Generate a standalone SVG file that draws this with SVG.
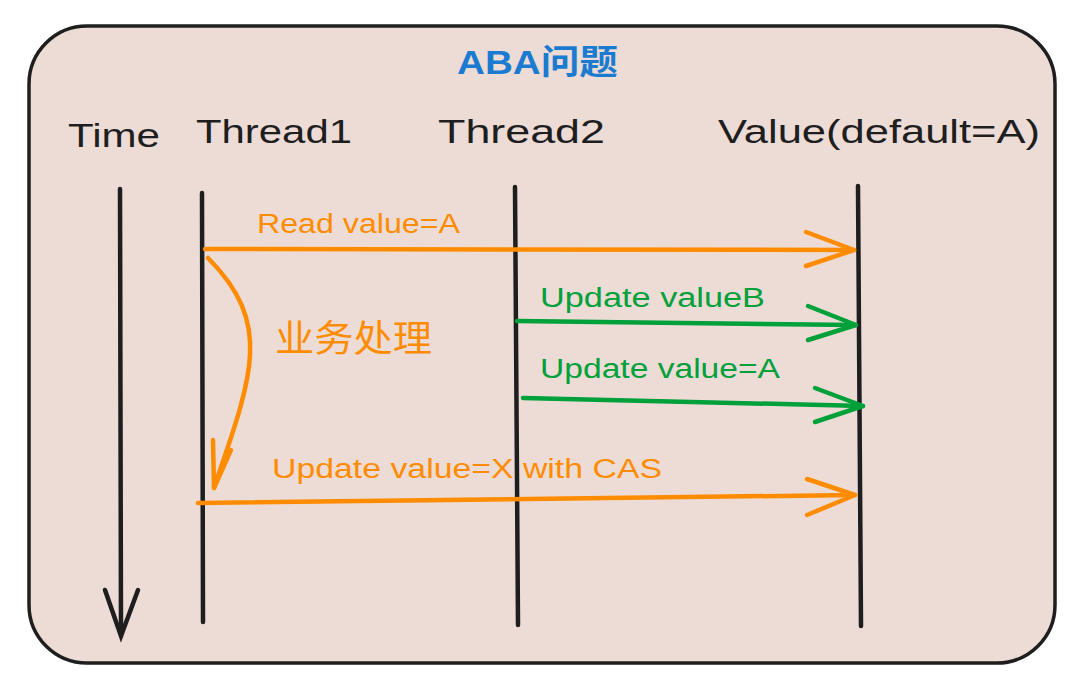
<svg xmlns="http://www.w3.org/2000/svg" width="1088" height="680" viewBox="0 0 1088 680">
  <defs>
    <style>
      .frame { fill: #eddcd6; stroke: #1e1e1e; stroke-width: 3.5; }
      .life { stroke: #1e1e1e; stroke-width: 4.5; fill: none; stroke-linecap: round; }
      .orange { stroke: #ff8c00; stroke-width: 4.5; fill: none; stroke-linecap: round; stroke-linejoin: round; }
      .green { stroke: #00a03a; stroke-width: 4.5; fill: none; stroke-linecap: round; stroke-linejoin: round; }
      .hdr { font-family: "Liberation Sans", "Noto Sans CJK SC", sans-serif; font-size: 33px; fill: #1e1e1e; }
      .lblO { font-family: "Liberation Sans", "Noto Sans CJK SC", sans-serif; font-size: 27px; fill: #ff8c00; }
      .lblG { font-family: "Liberation Sans", "Noto Sans CJK SC", sans-serif; font-size: 27px; fill: #00a03a; }
      .title { font-family: "Liberation Sans", "Noto Sans CJK SC", sans-serif; font-size: 34px; fill: #1a7bd0; font-weight: bold; }
      .cjk { font-family: "Noto Sans CJK SC", sans-serif; font-size: 37px; fill: #ff8c00; }
    </style>
  </defs>

  <g id="frame">
    <rect class="frame" x="29" y="26" width="1026" height="637" rx="58" ry="58"/>
  </g>

  <g id="title">
    <text class="title" x="457" y="74" textLength="161" lengthAdjust="spacingAndGlyphs">ABA问题</text>
  </g>

  <g id="time">
    <text class="hdr" x="68" y="147" textLength="92" lengthAdjust="spacingAndGlyphs">Time</text>
    <line class="life" x1="120" y1="189" x2="121" y2="634"/>
    <polyline class="life" points="105,590 121,636 138,590"/>
  </g>

  <g id="thread1">
    <text class="hdr" x="196" y="143" textLength="156" lengthAdjust="spacingAndGlyphs">Thread1</text>
    <line class="life" x1="202" y1="193" x2="203" y2="622"/>
  </g>

  <g id="thread2">
    <text class="hdr" x="438" y="143" textLength="167" lengthAdjust="spacingAndGlyphs">Thread2</text>
    <line class="life" x1="515" y1="187" x2="518" y2="625"/>
  </g>

  <g id="value">
    <text class="hdr" x="718" y="143" textLength="322" lengthAdjust="spacingAndGlyphs">Value(default=A)</text>
    <line class="life" x1="858" y1="186" x2="861" y2="626"/>
  </g>

  <g id="connectors">
    <g id="read">
      <line class="orange" x1="205" y1="249" x2="854" y2="250"/>
      <polyline class="orange" points="806,232 854,250 806,266"/>
      <text class="lblO" x="257" y="233" textLength="203" lengthAdjust="spacingAndGlyphs">Read value=A</text>
    </g>
    <g id="process">
      <path class="orange" d="M208,258 C240,290 252,320 250,355 C248,395 228,445 214,488"/>
      <polyline class="orange" points="213,440 214,488 231,450"/>
      <text class="cjk" x="275" y="352" textLength="157" lengthAdjust="spacingAndGlyphs">业务处理</text>
    </g>
    <g id="updateB">
      <line class="green" x1="517" y1="321" x2="856" y2="325"/>
      <polyline class="green" points="808,306 856,325 808,340"/>
      <text class="lblG" x="540" y="307" textLength="225" lengthAdjust="spacingAndGlyphs">Update valueB</text>
    </g>
    <g id="updateA">
      <line class="green" x1="523" y1="398" x2="863" y2="406"/>
      <polyline class="green" points="815,388 863,406 815,422"/>
      <text class="lblG" x="540" y="378" textLength="240" lengthAdjust="spacingAndGlyphs">Update value=A</text>
    </g>
    <g id="cas">
      <line class="orange" x1="198" y1="503" x2="855" y2="495"/>
      <polyline class="orange" points="807,479 855,495 807,515"/>
      <text class="lblO" x="272" y="478" textLength="390" lengthAdjust="spacingAndGlyphs">Update value=X with CAS</text>
    </g>
  </g>
</svg>
